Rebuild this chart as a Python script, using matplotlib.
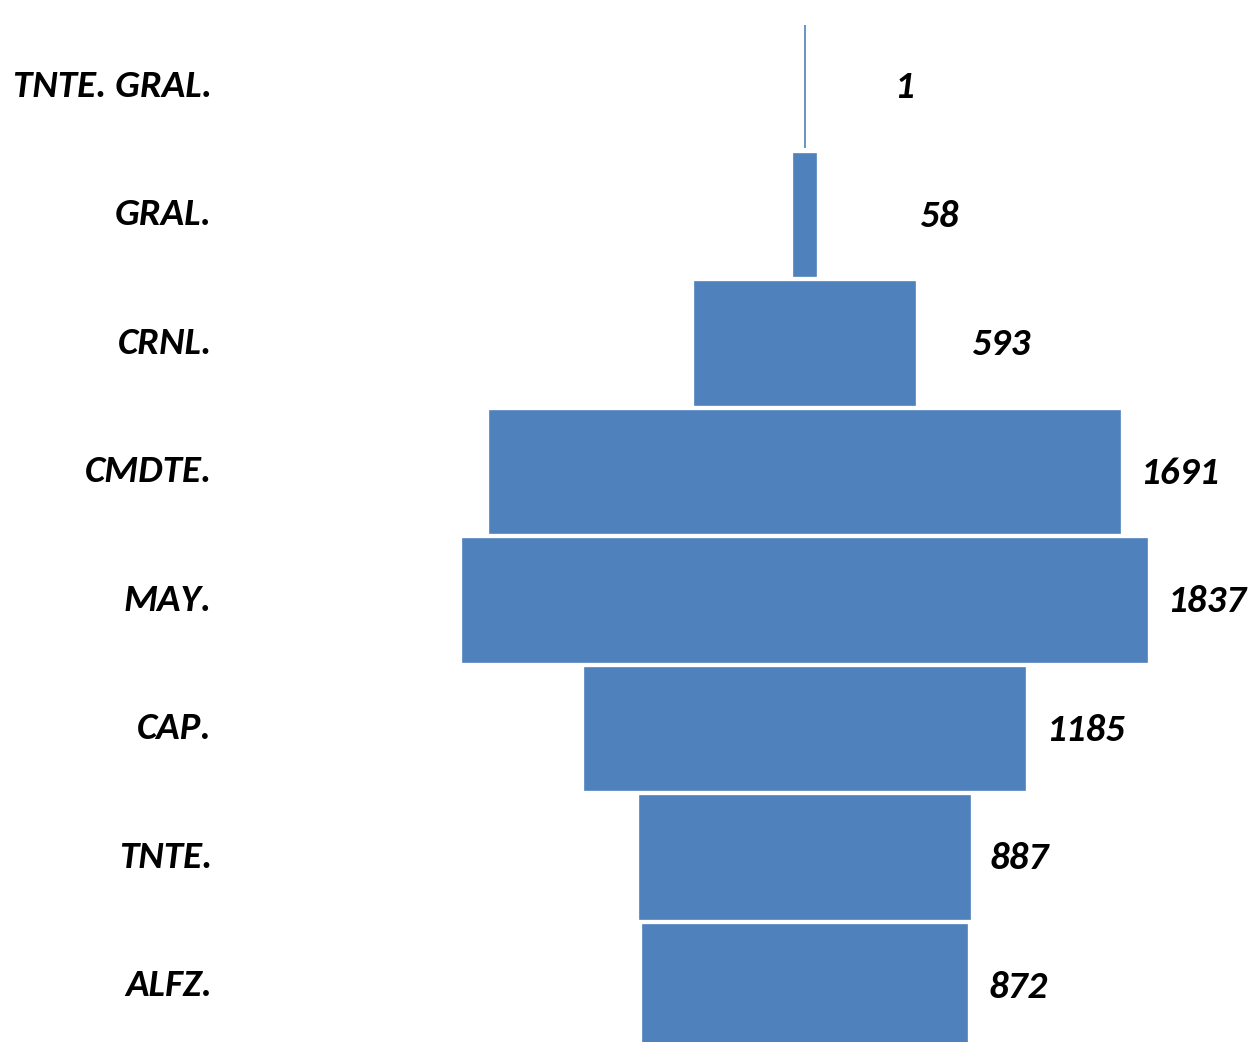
import matplotlib.pyplot as plt
from matplotlib import font_manager
import matplotlib.transforms as mtransforms

#---------- Data
grados = ['TNTE. GRAL.', 'GRAL.', 'CRNL.', 'CMDTE.', 'MAY.', 'CAP.', 'TNTE.', 'ALFZ.']
valores = [1, 58, 593, 1691, 1837, 1185, 887, 872]

#---------- Style
color_barra = '#4F81BD'
# label gap to the right of each bar (points)
gap_etiqueta = [64, 74, 40, 15, 15, 15, 14, 15]

# Calibri look-alike if present
fams = set(f.name for f in font_manager.fontManager.ttflist)
fuente = 'Liberation Sans'
for cand in ['Carlito', 'Barlow Semi Condensed', 'Asap Condensed']:
    if cand in fams:
        fuente = cand
        break

fig = plt.figure(figsize=(12.48, 10.42), dpi=100)
ax = fig.add_axes([0, 0, 1, 1])

escala = 0.372  # px per unit
centro = 805
paso = 128.5    # px per row
ax.set_xlim(-centro / escala, (1248 - centro) / escala)
ax.set_ylim((1042 - 86.5) / paso, -86.5 / paso)

ypos = list(range(len(grados)))
lefts = [-v / 2 for v in valores]
ax.barh(ypos, valores, left=lefts, height=0.95, color=color_barra,
        edgecolor=color_barra, linewidth=1.2)

trans = mtransforms.blended_transform_factory(ax.transAxes, ax.transData)
for y, g, v, gap in zip(ypos, grados, valores, gap_etiqueta):
    ax.text(212 / 1248, y, g, transform=trans, ha='right', va='center',
            fontsize=28, fontweight='bold', fontstyle='italic', family=fuente)
    ax.annotate(str(v), xy=(v / 2, y + 0.01), xytext=(gap, 0), textcoords='offset points',
                ha='left', va='center', fontsize=28, fontweight='bold',
                fontstyle='italic', family=fuente)

ax.axis('off')
fig.savefig('out.png', dpi=100)
